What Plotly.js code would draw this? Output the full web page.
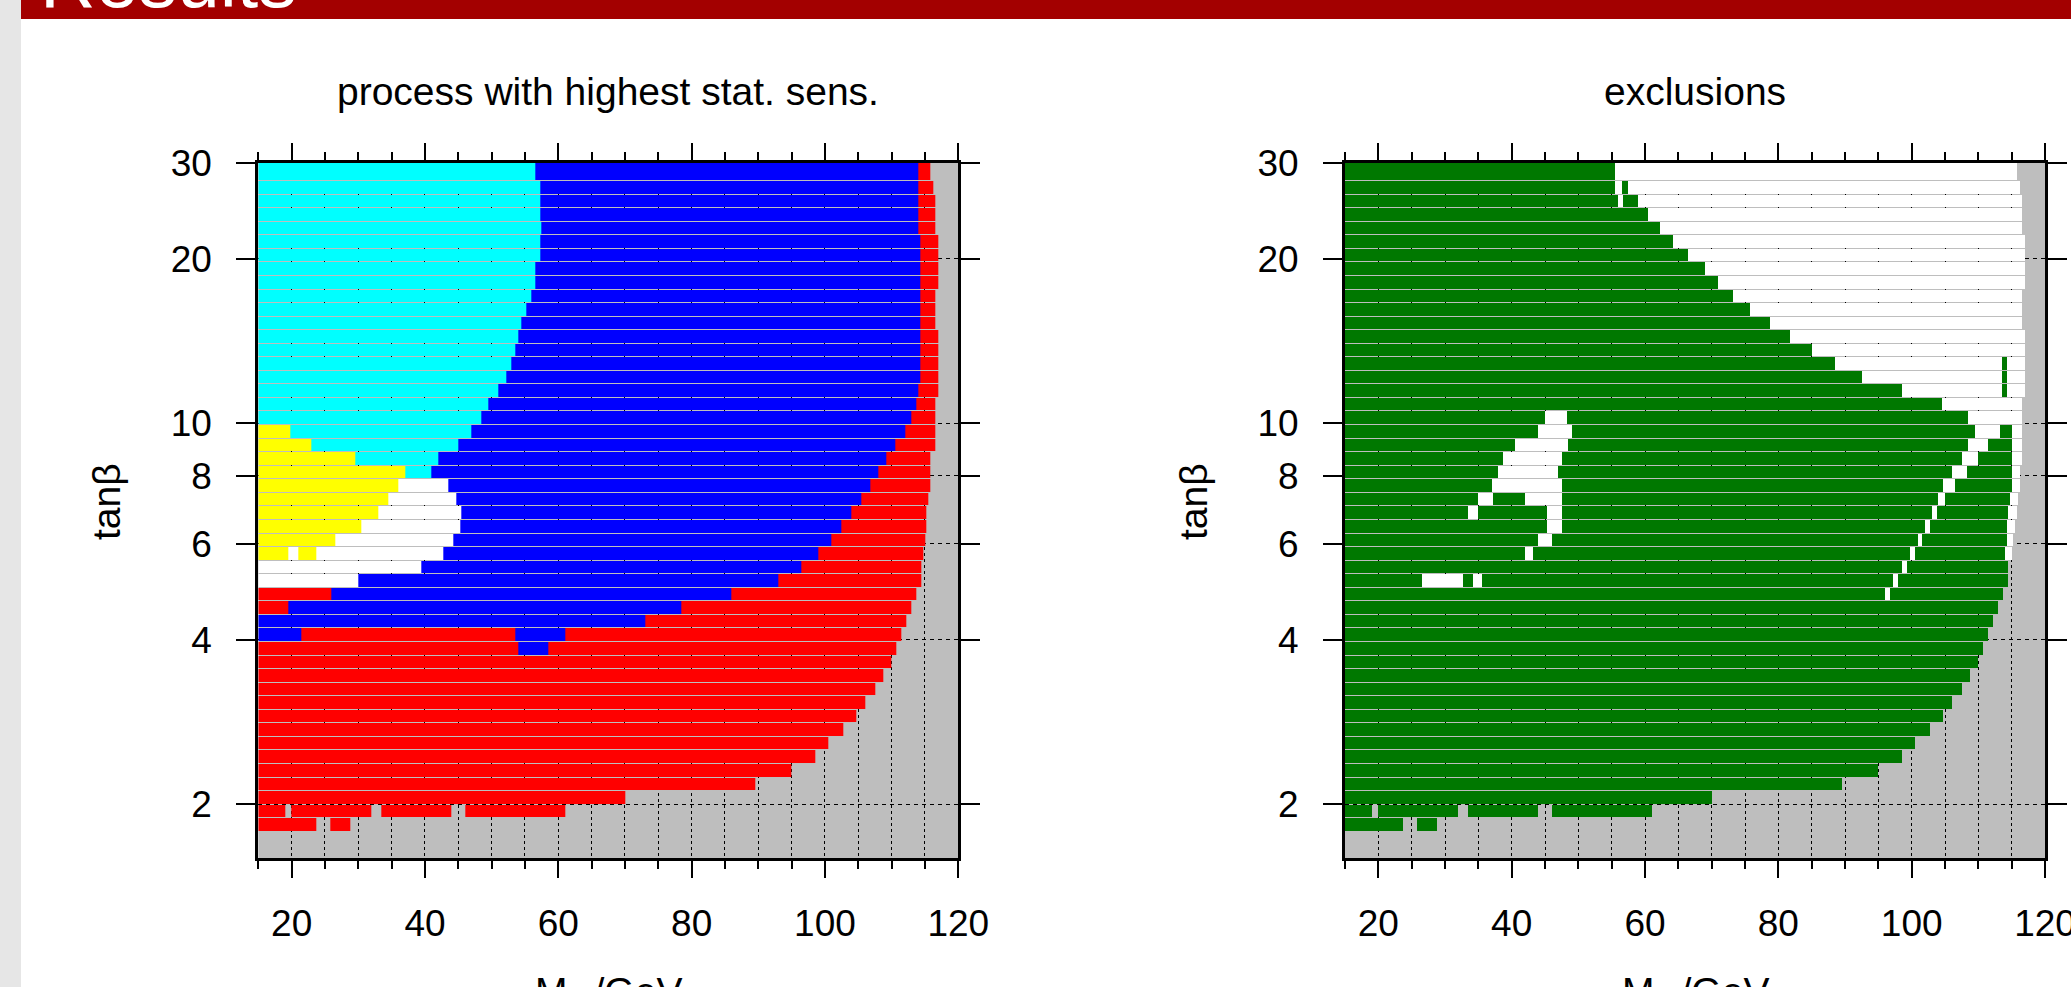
<!DOCTYPE html>
<html><head><meta charset="utf-8">
<script src="https://cdn.plot.ly/plotly-3.0.1.min.js"></script>
<style>html,body{margin:0;padding:0;background:#fff;overflow:hidden}#chart{width:2071px;height:987px}</style>
</head><body><div id="chart"></div>
<script>
// tan(beta) row edges of the scan (top to bottom)
const tanbEdges = [30.0, 27.80, 26.25, 24.79, 23.41, 22.11, 20.88, 19.72, 18.62, 17.58, 16.60, 15.68, 14.81, 13.98, 13.20, 12.47, 11.77, 11.12, 10.50, 9.915, 9.363, 8.842, 8.350, 7.885, 7.446, 7.032, 6.640, 6.271, 5.922, 5.592, 5.281, 4.987, 4.709, 4.447, 4.199, 3.966, 3.745, 3.536, 3.339, 3.154, 2.978, 2.812, 2.656, 2.508, 2.368, 2.236, 2.112, 1.994, 1.883, 1.779, 1.680, 1.586];
const mhRange = [15, 120];
const xTickVals = [20, 40, 60, 80, 100, 120];
const yTickVals = [2, 4, 6, 8, 10, 20, 30];
const yTickText = ['2', '4', '6', '8', '10', '20', '30'];
// region codes: W white, Y yellow, C cyan, B blue, R red, E green (excluded), - no point
const codeValue = {W: 0, Y: 1, C: 2, B: 3, R: 4, E: 5};
// each row: runs "code + upper Mh edge", starting at Mh = 15; beyond last run: outside scan
const leftRows = [
 "C56.6 B114.0 R115.8",
 "C57.2 B114.0 R116.3",
 "C57.3 B114.0 R116.5",
 "C57.3 B114.0 R116.5",
 "C57.4 B114.0 R116.5",
 "C57.3 B114.2 R117.1",
 "C57.3 B114.2 R117.1",
 "C56.6 B114.2 R117.1",
 "C56.6 B114.2 R117.1",
 "C55.9 B114.2 R116.5",
 "C55.3 B114.2 R116.5",
 "C54.6 B114.2 R116.5",
 "C53.9 B114.2 R117.1",
 "C53.4 B114.2 R117.1",
 "C53.0 B114.2 R117.1",
 "C52.2 B114.2 R117.1",
 "C50.9 B114.0 R117.1",
 "C49.5 B113.8 R116.4",
 "C48.4 B113.0 R116.4",
 "Y19.8 C47.0 B112.0 R116.4",
 "Y23.0 C45.0 B110.5 R116.4",
 "Y29.5 C42.0 B109.3 R115.8",
 "Y37.0 C41.0 B108.0 R115.8",
 "Y36.0 W43.5 B106.8 R115.8",
 "Y34.6 W44.8 B105.5 R115.5",
 "Y33.1 W45.5 B104.0 R115.3",
 "Y30.5 W45.2 B102.5 R115.2",
 "Y26.5 W44.2 B101.0 R115.0",
 "Y19.4 W21.0 Y23.7 W42.7 B99.0 R114.8",
 "W39.5 B96.5 R114.6",
 "W30.0 B93.0 R114.4",
 "R26.0 B86.0 R113.8",
 "R19.5 B78.5 R113.0",
 "B73.0 R112.2",
 "B21.6 R53.5 B61.0 R111.6",
 "R54.0 B58.5 R110.8",
 "R110.0",
 "R108.8",
 "R107.4",
 "R106.0",
 "R104.8",
 "R102.8",
 "R100.5",
 "R98.5",
 "R95.0",
 "R89.5",
 "R70.0",
 "R19.0 -20.0 R32.0 -33.5 R44.0 -46.0 R61.0",
 "R23.8 -25.8 R28.8",
 "",
 ""
];
const rightRows = [
 "E55.4 W115.8",
 "E55.6 W56.6 E57.6 W116.3",
 "E56.0 W56.8 E59.0 W116.5",
 "E60.6 W116.5",
 "E62.2 W116.5",
 "E64.2 W117.1",
 "E66.5 W117.1",
 "E68.9 W117.1",
 "E70.9 W117.1",
 "E73.2 W116.5",
 "E75.8 W116.5",
 "E78.8 W116.5",
 "E81.7 W117.1",
 "E85.1 W117.1",
 "E88.6 W113.6 E114.3 W117.1",
 "E92.6 W113.6 E114.3 W117.1",
 "E98.5 W113.6 E114.3 W117.1",
 "E104.5 W116.4",
 "E45.0 W48.2 E108.5 W116.4",
 "E44.0 W49.0 E109.5 W113.2 E114.9 W116.4",
 "E40.5 W48.5 E108.5 W111.5 E114.9 W116.4",
 "E38.8 W47.5 E107.5 W110.0 E114.9 W116.4",
 "E38.0 W46.9 E106.0 W108.2 E114.9 W116.3",
 "E37.1 W47.6 E104.8 W106.5 E114.9 W116.2",
 "E35.0 W37.2 E42.0 W47.6 E104.0 W105.0 E114.8 W116.0",
 "E33.5 W34.9 E45.2 W47.5 E103.0 W103.8 E114.5 W115.8",
 "E45.3 W47.5 E102.0 W102.7 E114.3 W115.6",
 "E44.0 W46.0 E101.0 W101.6 E114.3 W115.3",
 "E42.0 W43.2 E99.8 W100.4 E114.0 W115.0",
 "E98.5 W99.2 E114.6",
 "E26.5 W32.7 E34.3 W35.6 E97.3 W98.0 E114.4",
 "E96.0 W96.7 E113.8",
 "E113.0",
 "E112.2",
 "E111.6",
 "E110.8",
 "E110.0",
 "E108.8",
 "E107.4",
 "E106.0",
 "E104.8",
 "E102.8",
 "E100.5",
 "E98.5",
 "E95.0",
 "E89.5",
 "E70.0",
 "E19.0 -20.0 E32.0 -33.5 E44.0 -46.0 E61.0",
 "E23.8 -25.8 E28.8",
 "",
 ""
];
const colors = {white: '#ffffff', yellow: '#ffff00', cyan: '#00ffff', blue: '#0000ff', red: '#ff0000', green: '#007800', gray: '#bebebe'};

// ---- build grid ----
const step = 0.25;
const xEdges = [];
for (let v = mhRange[0]; v <= mhRange[1] + 1e-9; v += step) xEdges.push(+v.toFixed(3));
function parseRow(s) {
  return s.trim() ? s.trim().split(/\s+/).map(t => ({c: t[0], e: parseFloat(t.slice(1))})) : [];
}
function buildZ(rows) {
  return rows.map(s => {
    const runs = parseRow(s);
    const out = [];
    for (let i = 0; i < xEdges.length - 1; i++) {
      const xc = (xEdges[i] + xEdges[i + 1]) / 2;
      let val = null;
      for (const r of runs) { if (xc < r.e) { val = r.c === '-' ? null : codeValue[r.c]; break; } }
      out.push(val);
    }
    return out;
  });
}
const cs = [[0, colors.white], [0.1, colors.white], [0.1, colors.yellow], [0.3, colors.yellow], [0.3, colors.cyan], [0.5, colors.cyan], [0.5, colors.blue], [0.7, colors.blue], [0.7, colors.red], [0.9, colors.red], [0.9, colors.green], [1, colors.green]];
function hm(rows, xa, ya) {
  return {type: 'heatmap', x: xEdges, y: tanbEdges, z: buildZ(rows), xaxis: xa, yaxis: ya,
    colorscale: cs, zmin: 0, zmax: 5, showscale: false, ygap: 1, hoverinfo: 'skip'};
}

const W = 2071, H = 987;
const px = v => v / W, py = v => 1 - v / H;
const fam = 'Liberation Sans, Arial, Helvetica, sans-serif';
const font = {family: fam, size: 37, color: '#000'};
const tfont = {family: fam, size: 39, color: '#000'};
function xax(domain, anchor) {
  return {domain: domain, anchor: anchor, range: mhRange, tickvals: xTickVals, ticks: 'outside', ticklen: 17, tickwidth: 2,
    tickcolor: '#000', showline: true, linewidth: 3, linecolor: '#000', mirror: 'allticks', zeroline: false,
    showgrid: true, gridcolor: '#000', gridwidth: 1, griddash: 'dot', tickfont: font, ticklabelstandoff: 14,
    ticklabeloverflow: 'allow',
    minor: {dtick: 5, tick0: 0, ticks: 'outside', ticklen: 8, tickwidth: 2, tickcolor: '#000', showgrid: true, gridcolor: '#000', gridwidth: 1, griddash: 'dot'}};
}
function yax(anchor) {
  return {domain: [py(858), py(163)], anchor: anchor, type: 'log', range: [Math.log10(1.592), Math.log10(30)],
    tickvals: yTickVals, ticktext: yTickText, ticks: 'outside', ticklen: 19, tickwidth: 2, tickcolor: '#000',
    showline: true, linewidth: 3, linecolor: '#000', mirror: 'allticks', zeroline: false,
    showgrid: true, gridcolor: '#000', gridwidth: 1, griddash: '4px,4px', tickfont: font, ticklabelstandoff: 17};
}
const layout = {
  width: W, height: H, margin: {l: 0, r: 0, t: 0, b: 0}, paper_bgcolor: '#fff', plot_bgcolor: colors.gray,
  showlegend: false, font: font,
  xaxis: xax([px(258.3), px(958.3)], 'y'), yaxis: yax('x'),
  xaxis2: xax([px(1345), px(2045)], 'y2'), yaxis2: yax('x2'),
  shapes: [
    {type: 'rect', xref: 'paper', yref: 'paper', x0: 0, x1: px(21), y0: 0, y1: 1, fillcolor: '#e6e6e6', line: {width: 0}},
    {type: 'rect', xref: 'paper', yref: 'paper', x0: px(21), x1: 1, y0: py(19), y1: 1, fillcolor: '#a30000', line: {width: 0}}
  ],
  annotations: [
    {text: 'Results', xref: 'paper', yref: 'paper', x: px(38), y: py(-20), xanchor: 'left', yanchor: 'middle', showarrow: false, font: {family: fam, size: 77, color: '#fff'}},
    {text: 'process with highest stat. sens.', xref: 'paper', yref: 'paper', x: px(608), y: py(92), xanchor: 'center', yanchor: 'middle', showarrow: false, font: tfont},
    {text: 'exclusions', xref: 'paper', yref: 'paper', x: px(1695), y: py(92), xanchor: 'center', yanchor: 'middle', showarrow: false, font: tfont},
    {text: 'tanβ', xref: 'paper', yref: 'paper', x: px(106), y: py(502), textangle: -90, xanchor: 'center', yanchor: 'middle', showarrow: false, font: tfont},
    {text: 'tanβ', xref: 'paper', yref: 'paper', x: px(1193), y: py(502), textangle: -90, xanchor: 'center', yanchor: 'middle', showarrow: false, font: tfont},
    {text: 'M<sub>h</sub> /GeV', xref: 'paper', yref: 'paper', x: px(608), y: py(968), xanchor: 'center', yanchor: 'top', showarrow: false, font: tfont},
    {text: 'M<sub>h</sub> /GeV', xref: 'paper', yref: 'paper', x: px(1695), y: py(968), xanchor: 'center', yanchor: 'top', showarrow: false, font: tfont}
  ]
};
Plotly.newPlot('chart', [hm(leftRows, 'x', 'y'), hm(rightRows, 'x2', 'y2')], layout, {staticPlot: true, displayModeBar: false});
</script></body></html>
